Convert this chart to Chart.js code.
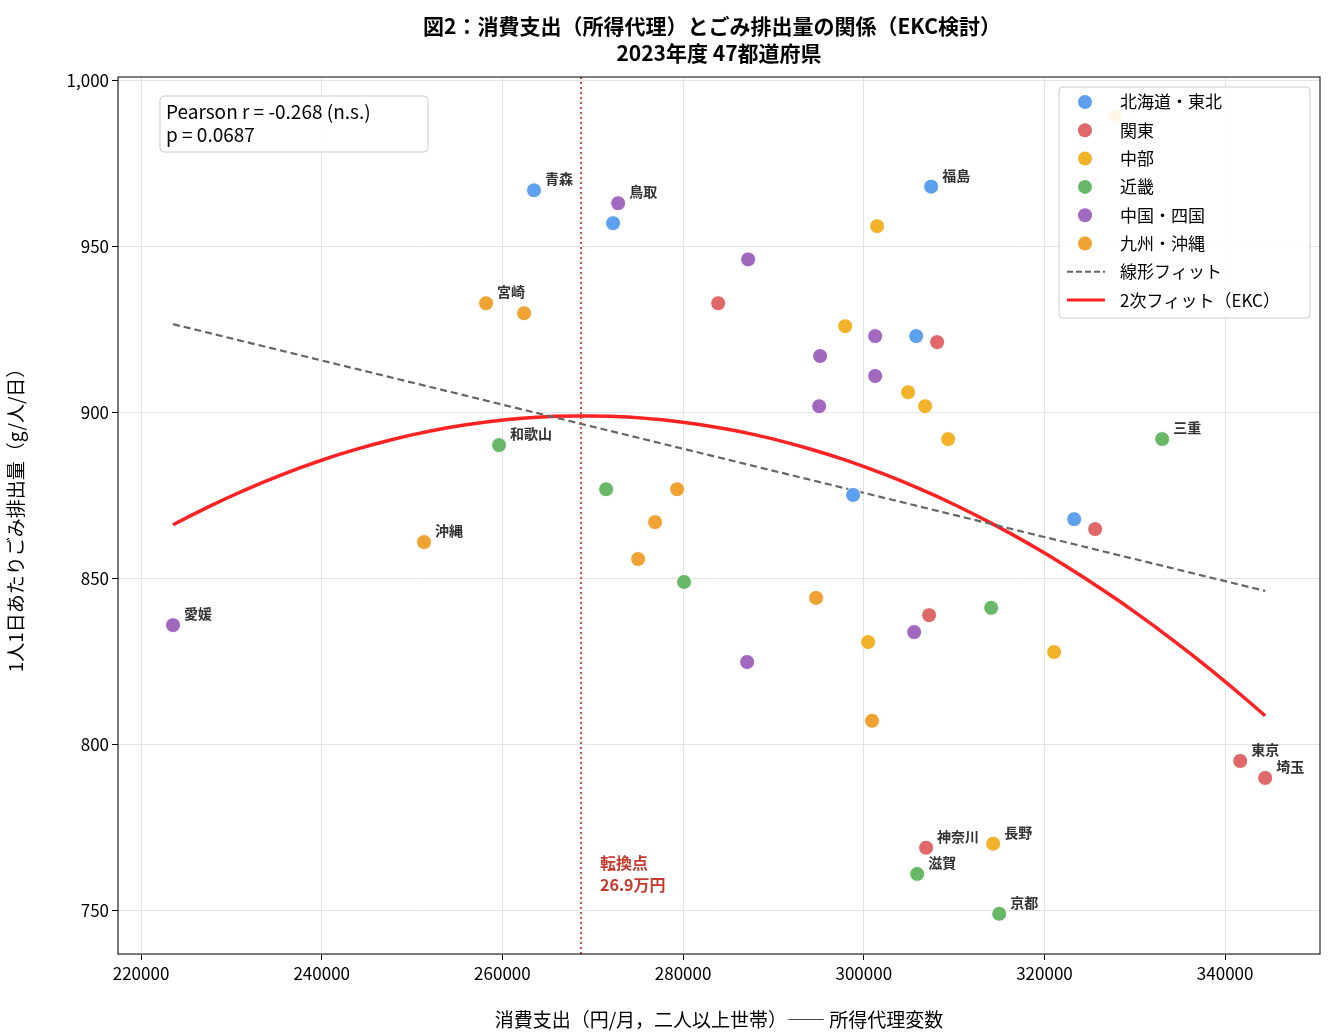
<!DOCTYPE html>
<html lang="ja">
<head>
<meta charset="UTF-8">
<title>図2</title>
<script src="https://cdn.jsdelivr.net/npm/chart.js"></script>
<style>
  body { margin: 0; background: #fff; }
  #wrap { width: 1334px; height: 1035px; }
</style>
</head>
<body>
<div id="wrap"><canvas id="c" width="1334" height="1035"></canvas></div>
<script>
// data: [spending, waste g/person/day, label]
const hokkaidoTohoku = [[263500,966.9,'青森'],[272250,957],[307460,968,'福島'],[305800,923],[298820,875.2],[323290,867.9]];
const kanto = [[283880,932.9],[308120,921.2],[325610,864.9],[307230,839],[306900,769,'神奈川'],[341670,795.1,'東京'],[344430,790,'埼玉']];
const chubu = [[327830,989.2],[301480,956.1],[297940,926],[304910,906.1],[306790,901.9],[309340,892],[314320,770.2,'長野'],[321070,827.9],[300480,830.9]];
const kinki = [[259630,890.2,'和歌山'],[271480,876.9],[280110,849],[314100,841.2],[333030,892,'三重'],[305910,761.1,'滋賀'],[314990,749.1,'京都']];
const chugokuShikoku = [[272810,963,'鳥取'],[287200,946.1],[295170,917],[301260,923],[301260,911],[295060,901.9],[305580,833.9],[287090,824.9],[223540,836,'愛媛']];
const kyushuOkinawa = [[276900,867],[279340,876.9],[275020,855.9],[294720,844.2],[300920,807.2],[258190,932.9,'宮崎'],[262400,929.9],[251330,861,'沖縄']];

const linearFit = [[223540,926.6],[344430,846.3]];
const quadPeak = [269000, 899.0]; const quadA = -1.587e-8; // EKC fit coefficients
const turnX = 268700;
const xTicks = [220000,240000,260000,280000,300000,320000,340000];
const yTicks = [750,800,850,900,950,1000];

const quad = [];
for (let i = 0; i <= 60; i++) {
  const x = 223540 + (344430 - 223540) * i / 60;
  quad.push({x, y: quadPeak[1] + quadA * (x - quadPeak[0]) ** 2});
}

const F = '"Noto Sans CJK JP", "Noto Sans", sans-serif';
function ds(label, arr, color) {
  return { type: 'scatter', label, data: arr.map(p => ({x: p[0], y: p[1], name: p[2]})),
    backgroundColor: color, borderColor: '#fff', borderWidth: 1, pointRadius: 7.5, pointHoverRadius: 7.5 };
}
const groups = [
  ds('北海道・東北', hokkaidoTohoku, '#5da0ee'),
  ds('関東', kanto, '#e06868'),
  ds('中部', chubu, '#f2b22a'),
  ds('近畿', kinki, '#68b868'),
  ds('中国・四国', chugokuShikoku, '#a268c0'),
  ds('九州・沖縄', kyushuOkinawa, '#f0a232'),
];

const deco = {
  id: 'deco',
  afterDatasetsDraw(chart) {
    const {ctx, chartArea: a, scales: {x, y}} = chart;
    ctx.save();
    // turning point line
    ctx.strokeStyle = '#d84a3a'; ctx.lineWidth = 2; ctx.setLineDash([2, 3]);
    const tx = x.getPixelForValue(turnX);
    ctx.beginPath(); ctx.moveTo(tx, a.top); ctx.lineTo(tx, a.bottom); ctx.stroke();
    ctx.setLineDash([]);
    ctx.fillStyle = '#c83a2e'; ctx.font = 'bold 16px ' + F; ctx.textBaseline = 'top';
    ctx.fillText('転換点', tx + 19, 855); ctx.fillText('26.9万円', tx + 19, 877);
    // point labels
    ctx.fillStyle = '#333'; ctx.font = 'bold 14px ' + F; ctx.textBaseline = 'alphabetic';
    groups.forEach(g => g.data.forEach(p => {
      if (p.name) ctx.fillText(p.name, x.getPixelForValue(p.x) + 11, y.getPixelForValue(p.y) - 6);
    }));
    // frame
    ctx.strokeStyle = '#000'; ctx.lineWidth = 1;
    ctx.strokeRect(a.left, a.top, a.right - a.left, a.bottom - a.top);
    // stats box
    ctx.fillStyle = 'rgba(255,255,255,0.9)'; ctx.strokeStyle = '#ccc';
    ctx.beginPath(); ctx.roundRect(160, 96, 268, 56, 4); ctx.fill(); ctx.stroke();
    ctx.fillStyle = '#000'; ctx.font = '19px ' + F; ctx.textBaseline = 'middle';
    ctx.fillText('Pearson r = -0.268 (n.s.)', 166, 112); ctx.fillText('p = 0.0687', 166, 135);
    // legend
    const lx = 1059, ly = 87;
    ctx.fillStyle = 'rgba(255,255,255,0.9)'; ctx.strokeStyle = '#ccc';
    ctx.beginPath(); ctx.roundRect(lx, ly, 251, 231, 4); ctx.fill(); ctx.stroke();
    ctx.font = '17px ' + F;
    groups.forEach((g, i) => {
      const yy = ly + 15 + i * 28.3;
      ctx.fillStyle = g.backgroundColor; ctx.beginPath(); ctx.arc(lx + 26, yy, 7, 0, 7); ctx.fill();
      ctx.fillStyle = '#000'; ctx.fillText(g.label, lx + 61, yy);
    });
    let yy = ly + 15 + 6 * 28.3;
    ctx.strokeStyle = '#666'; ctx.lineWidth = 2; ctx.setLineDash([6, 3]);
    ctx.beginPath(); ctx.moveTo(lx + 8, yy); ctx.lineTo(lx + 46, yy); ctx.stroke();
    ctx.setLineDash([]); ctx.fillStyle = '#000'; ctx.fillText('線形フィット', lx + 61, yy);
    yy += 28.3;
    ctx.strokeStyle = '#ff2222'; ctx.lineWidth = 3;
    ctx.beginPath(); ctx.moveTo(lx + 8, yy); ctx.lineTo(lx + 46, yy); ctx.stroke();
    ctx.fillText('2次フィット（EKC）', lx + 61, yy);
    // title
    ctx.textAlign = 'center'; ctx.font = 'bold 21px ' + F;
    ctx.fillText('図2：消費支出（所得代理）とごみ排出量の関係（EKC検討）', 712, 26);
    ctx.fillText('2023年度 47都道府県', 719, 53);
    ctx.restore();
  }
};

new Chart(document.getElementById('c'), {
  data: { datasets: [
    ...groups,
    { type: 'line', label: '線形フィット', data: linearFit.map(p => ({x: p[0], y: p[1]})),
      borderColor: '#666', borderWidth: 2.2, borderDash: [7, 4], pointRadius: 0 },
    { type: 'line', label: '2次フィット（EKC）', data: quad,
      borderColor: '#ff2222', borderWidth: 3.5, pointRadius: 0, tension: 0 },
  ]},
  options: {
    responsive: false, animation: false,
    layout: { padding: { top: 77, right: 14, left: 0, bottom: 0 } },
    plugins: { legend: { display: false }, tooltip: { enabled: false } },
    scales: {
      x: { type: 'linear', min: 217450, max: 350500,
        afterBuildTicks: s => { s.ticks = xTicks.map(v => ({value: v})); },
        afterFit: s => { s.height = 81; },
        ticks: { callback: v => String(v), color: '#000', font: { size: 17, family: F } },
        grid: { color: '#e4e4e4', tickColor: '#000', tickLength: 6 },
        title: { display: true, text: '消費支出（円/月，二人以上世帯）―― 所得代理変数', color: '#000', font: { size: 19, family: F } } },
      y: { min: 737, max: 1001,
        afterBuildTicks: s => { s.ticks = yTicks.map(v => ({value: v})); },
        afterFit: s => { s.width = 118; },
        ticks: { color: '#000', font: { size: 17, family: F } },
        grid: { color: '#e4e4e4', tickColor: '#000', tickLength: 6 },
        title: { display: true, text: '1人1日あたりごみ排出量（g/人/日）', color: '#000', font: { size: 19, family: F } } }
    }
  },
  plugins: [deco]
});
</script>
</body>
</html>
